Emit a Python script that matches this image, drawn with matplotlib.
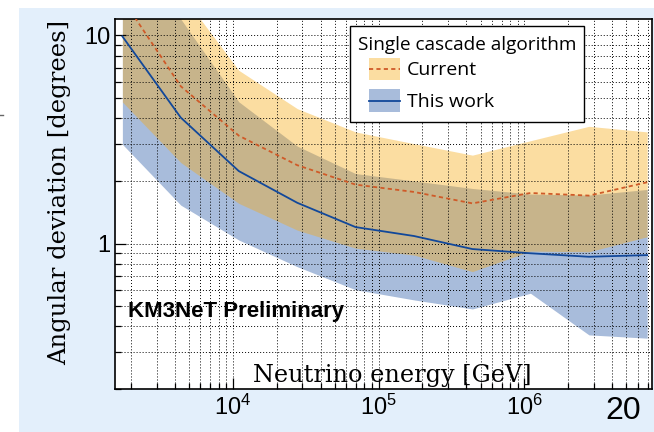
import matplotlib
matplotlib.use("Agg")
import matplotlib.pyplot as plt
from matplotlib.patches import Rectangle
from matplotlib.lines import Line2D
from matplotlib.ticker import FixedLocator, NullFormatter, FixedFormatter

plt.rcParams['mathtext.fontset'] = 'custom'
plt.rcParams['mathtext.rm'] = 'Liberation Sans'
plt.rcParams['mathtext.it'] = 'Liberation Sans:italic'
plt.rcParams['mathtext.bf'] = 'Liberation Sans:bold'

# ---------------- data ----------------
energy = [1.75e3, 4.4e3, 1.1e4, 2.77e4, 6.95e4, 1.75e5, 4.4e5, 1.1e6, 2.77e6, 6.95e6]

current_median = [15.0, 5.7, 3.3, 2.38, 1.92, 1.77, 1.56, 1.75, 1.70, 1.97]
current_upper = [40.0, 16.0, 6.8, 4.45, 3.44, 3.02, 2.66, 3.12, 3.66, 3.44]
current_lower = [4.79, 2.45, 1.56, 1.16, 0.95, 0.88, 0.733, 0.92, 0.913, 1.078]

thiswork_median = [9.9, 4.03, 2.23, 1.57, 1.20, 1.087, 0.941, 0.898, 0.864, 0.88]
thiswork_upper = [30.0, 12.0, 4.8, 2.94, 2.17, 2.0, 1.84, 1.73, 1.71, 1.82]
thiswork_lower = [3.0, 1.53, 1.04, 0.774, 0.60, 0.536, 0.485, 0.577, 0.364, 0.351]

x_major = [1e4, 1e5, 1e6]
x_major_labels = [r'$10^{4}$', r'$10^{5}$', r'$10^{6}$']
y_major = [1, 10]
y_major_labels = ['1', '10']

legend_title = 'Single cascade algorithm'
label_current = 'Current'
label_thiswork = 'This work'

# ---------------- figure ----------------
W, H = 654, 432
fig = plt.figure(figsize=(W / 100, H / 100), dpi=100)
fig.patch.set_facecolor('white')


def fx(px):
    return px / W


def fy(py):
    return 1 - py / H


# slide background
bg = Rectangle((fx(19), 0), 1 - fx(19), fy(8), transform=fig.transFigure,
               facecolor='#E3EFFB', edgecolor='none', zorder=-10)
fig.patches.append(bg)
fig.add_artist(Line2D([0, fx(3)], [fy(115), fy(115)], color='#666666', lw=1, zorder=-5))

L, R, T, B = 114.7, 652, 19, 389
ax = fig.add_axes([fx(L), fy(B), fx(R) - fx(L), fy(T) - fy(B)])
ax.set_zorder(1)
ax.set_facecolor('white')
ax.set_xscale('log')
ax.set_yscale('log')
ax.set_xlim(1.55e3, 7.5e6)
ax.set_ylim(0.2, 12)

blue_fill = (0 / 255, 60 / 255, 150 / 255)
orange_fill = (247 / 255, 170 / 255, 20 / 255)
blue_line = '#12489A'
red_line = '#CF5A28'

ax.fill_between(energy, thiswork_lower, thiswork_upper, color=blue_fill, alpha=0.34, lw=0, zorder=1)
ax.fill_between(energy, current_lower, current_upper, color=orange_fill, alpha=0.40, lw=0, zorder=1.1)
ax.plot(energy, thiswork_median, color=blue_line, lw=1.3, zorder=3)
ax.plot(energy, current_median, color=red_line, lw=1.3, dashes=(2.3, 1.8), zorder=3)

# ticks
xminor = [m * 10 ** e for e in range(3, 7) for m in range(2, 10)]
yminor = [m * 10 ** e for e in range(-1, 2) for m in range(2, 10)]
ax.xaxis.set_major_locator(FixedLocator(x_major))
ax.xaxis.set_major_formatter(FixedFormatter(x_major_labels))
ax.xaxis.set_minor_locator(FixedLocator(xminor))
ax.xaxis.set_minor_formatter(NullFormatter())
ax.yaxis.set_major_locator(FixedLocator(y_major))
ax.yaxis.set_major_formatter(FixedFormatter(y_major_labels))
ax.yaxis.set_minor_locator(FixedLocator(yminor))
ax.yaxis.set_minor_formatter(NullFormatter())

ax.set_axisbelow(False)
ax.grid(which='both', color='black', lw=0.7, linestyle=(0, (1.0, 2.1)))
ax.tick_params(which='both', direction='in', top=False, right=False, width=0.9)
ax.tick_params(which='major', length=8)
ax.tick_params(which='minor', length=4.5)
ax.tick_params(axis='x', which='major', pad=4, labelsize=17)
ax.tick_params(axis='y', which='major', pad=3, labelsize=17)
for lab in ax.get_yticklabels():
    lab.set_family('Liberation Sans')
for sp in ax.spines.values():
    sp.set_color('black')
    sp.set_linewidth(1.2)

# axis titles
serif = 'DejaVu Serif'
fig.text(fx(60), fy(192.5), 'Angular deviation [degrees]', rotation=90, ha='center', va='center',
         family=serif, fontsize=17.5)
ax.text(fx(532), fy(381.7), 'Neutrino energy [GeV]', transform=fig.transFigure, ha='right',
        va='baseline', family=serif, fontsize=17.3, zorder=4)

# KM3NeT label
ax.text(fx(128), fy(316.5), 'KM3NeT Preliminary', transform=fig.transFigure, ha='left', va='baseline',
        family='Liberation Sans', fontweight='bold', fontsize=16, zorder=4)

# legend (manual)
tf = fig.transFigure
ax.add_patch(Rectangle((fx(350), fy(121.7)), fx(584.3) - fx(350), fy(25.7) - fy(121.7), transform=tf,
                       facecolor='white', edgecolor='black', lw=1.0, zorder=5, clip_on=False))
leg_font = 'Open Sans'
ax.text(fx(358), fy(50), legend_title, transform=tf, ha='left', va='baseline', family=leg_font,
        fontsize=13.7, zorder=6)
# current entry
ax.add_patch(Rectangle((fx(369), fy(80)), fx(400) - fx(369), fy(58.3) - fy(80), transform=tf,
                       facecolor=orange_fill, alpha=0.40, lw=0, zorder=6, clip_on=False))
ax.add_artist(Line2D([fx(369), fx(400)], [fy(69.2), fy(69.2)], transform=tf, color=red_line, lw=1.3,
                     dashes=(2.3, 1.8), zorder=7))
ax.text(fx(406.7), fy(75), label_current, transform=tf, ha='left', va='baseline', family=leg_font,
        fontsize=14, zorder=6)
# this work entry
ax.add_patch(Rectangle((fx(369), fy(111.7)), fx(400) - fx(369), fy(89.3) - fy(111.7), transform=tf,
                       facecolor=blue_fill, alpha=0.34, lw=0, zorder=6, clip_on=False))
ax.add_artist(Line2D([fx(369), fx(400)], [fy(100.5), fy(100.5)], transform=tf, color=blue_line, lw=1.3,
                     zorder=7))
ax.text(fx(406.7), fy(106.7), label_thiswork, transform=tf, ha='left', va='baseline', family=leg_font,
        fontsize=14, zorder=6)

# slide number
fig.text(fx(623.5), fy(419), '20', ha='center', va='baseline', family='Liberation Sans', fontsize=23)

fig.savefig('out.png', dpi=100)
